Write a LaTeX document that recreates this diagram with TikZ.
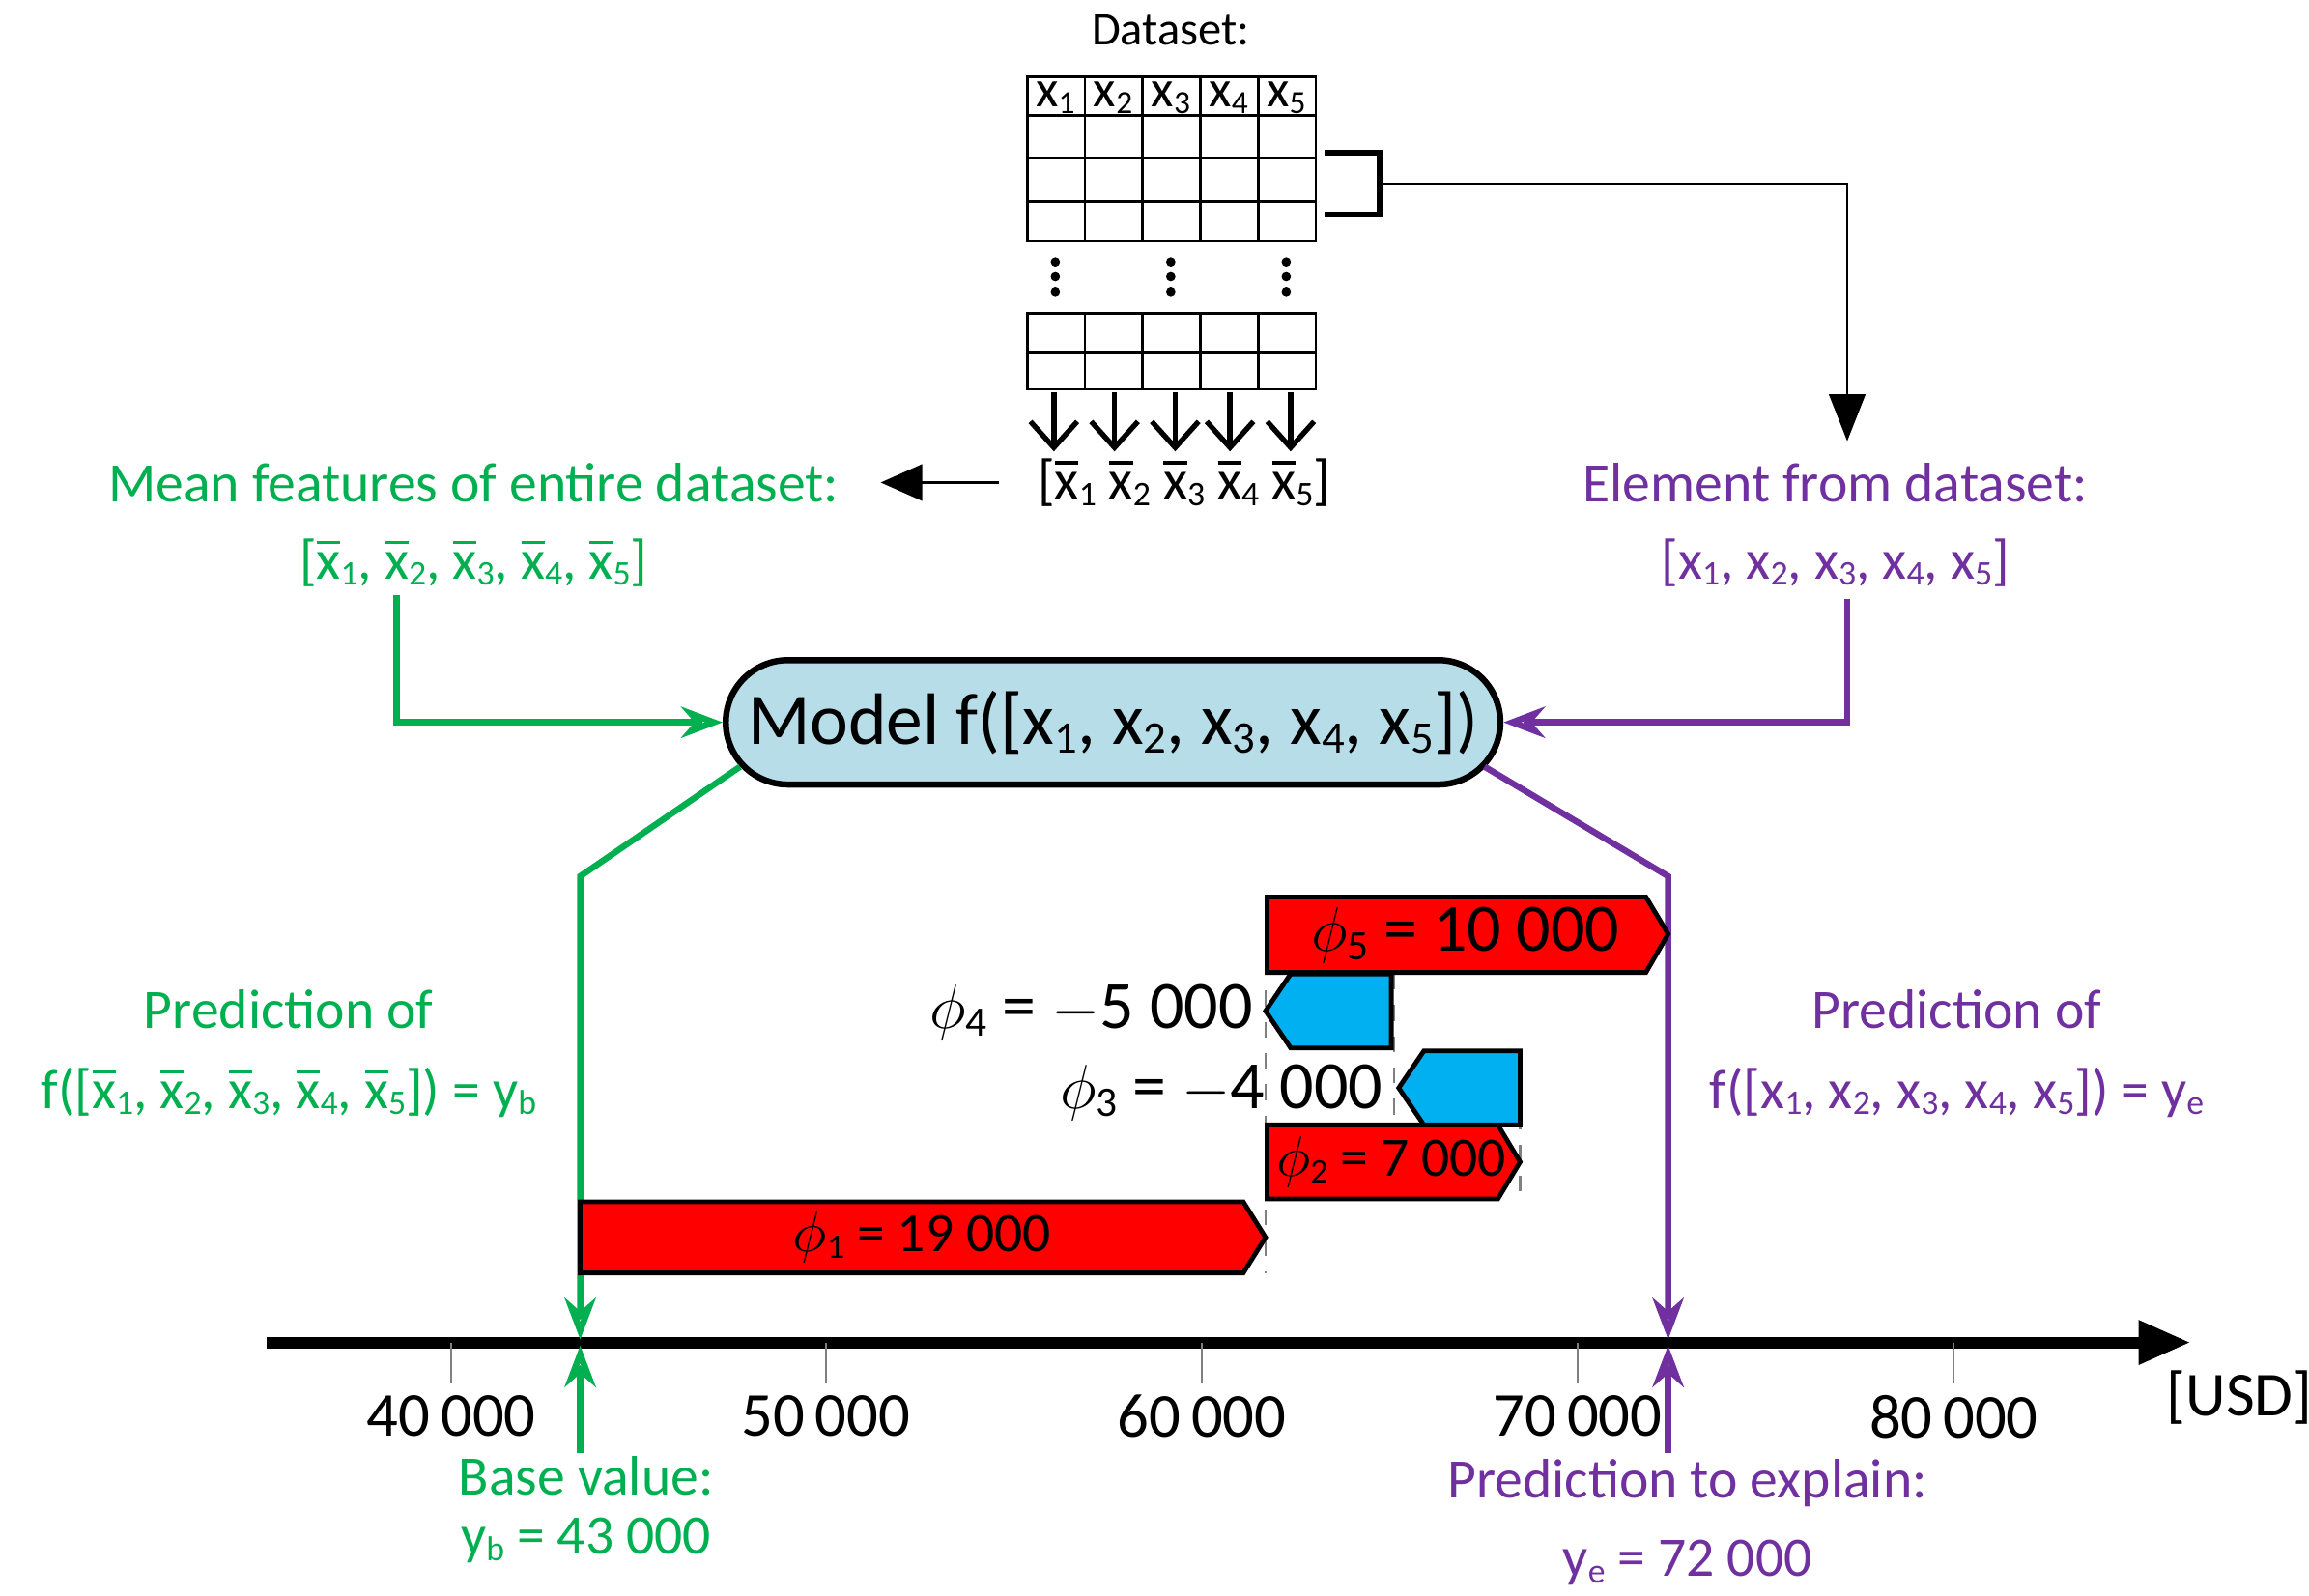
\documentclass[tikz,border=0pt]{standalone}
\usepackage{fontspec}
\setmainfont{Carlito}
\usetikzlibrary{arrows.meta}
\definecolor{gr}{RGB}{0,176,80}
\definecolor{pu}{RGB}{112,48,160}
\definecolor{lb}{RGB}{182,221,232}
\definecolor{bl}{RGB}{0,176,240}
\newcommand\sbs[1]{\raisebox{-0.25ex}{\scalebox{0.62}{#1}}}
\newcommand\xb[1]{\ooalign{x\cr\hidewidth\raisebox{0.62em}{\rule{0.42em}{0.06em}}\hidewidth\cr}\sbs{#1}}
\newcommand\xx[1]{x\sbs{#1}}
\begin{document}
\begin{tikzpicture}[x=0.01cm,y=-0.01cm,
 lab/.style={font=\fontsize{10.7}{13}\selectfont,inner sep=0},
 grid/.style={line width=0.5pt},
 arr/.style={-{Stealth[length=8pt,width=6pt,open]}},
 bar/.style={draw,line width=0.9pt}]
\useasboundingbox (0,0) rectangle (1560,1078);
% dataset
\node[lab,font=\fontsize{9}{11}\selectfont] (ds) at (791,20) {Dataset:};
\draw[grid] (694,52) rectangle (889,163);
\foreach \y in {78,107,136} \draw[grid] (694,\y)--(889,\y);
\foreach \x in {733,772,811,850} \draw[grid] (\x,52)--(\x,163);
\foreach \i/\x in {1/713,2/752,3/791,4/830,5/869} \node[lab,font=\fontsize{10}{12}\selectfont] (h\i) at (\x,66) {\xx{\i}};
\foreach \x in {713,791,869} \foreach \y in {177,187,197} \fill (\x,\y) circle (0.9pt);
\draw[grid] (694,212) rectangle (889,263);
\draw[grid] (694,238)--(889,238);
\foreach \x in {733,772,811,850} \draw[grid] (\x,212)--(\x,263);
\foreach \i/\x in {1/712,2/753,3/794,4/831,5/872}{
 \coordinate (t\i) at (\x,265); \coordinate (b\i) at (\x,305);
 \draw[-{Straight Barb[length=5pt,width=9pt]},line width=1pt] (t\i)--(b\i);}
\node[lab] (mean) at (800,326) {[\xb1 \xb2 \xb3 \xb4 \xb5]};
\node[lab,text=gr] (mf) at (320,326) {Mean features of entire dataset:};
\node[lab,text=gr] (mfv) at (320,380) {[\xb1, \xb2, \xb3, \xb4, \xb5]};
\coordinate (ma) at (675,326);
\draw[-{Triangle[length=8pt,width=7pt]}] (ma) -- (595,326);
% bracket
\draw[line width=1.2pt] (895,103)--(932,103)--(932,145)--(895,145);
\coordinate (br) at (932,124);
\coordinate (c1) at (1248,124);
\node[lab,text=pu] (el) at (1240,326) {Element from dataset:};
\node[lab,text=pu] (elv) at (1240,380) {[\xx1, \xx2, \xx3, \xx4, \xx5]};
\draw[-{Triangle[length=9pt,width=7pt]}] (br)--(c1)--(1248,298);
% model
\node[draw,line width=1.2pt,fill=lb,rounded corners=0.42cm,minimum width=5.23cm,minimum height=0.84cm,font=\fontsize{14}{16}\selectfont] (model) at (752,488) {Model f([\xx1, \xx2, \xx3, \xx4, \xx5])};
\draw[gr,line width=1.2pt,arr] (268,402)--(268,488)--(model.west);
\draw[pu,line width=1.2pt,arr] (1248,405)--(1248,488)--(model.east);
% axis
\draw[line width=2.2pt,-{Triangle[length=10pt,width=8pt]}] (180,907)--(1480,907);
\foreach \x/\t in {305/40,558/50,812/60,1066/70,1320/80}{
 \draw[gray] (\x,907)--(\x,935);
 \node[lab,font=\fontsize{12}{14}\selectfont] (tk\t) at (\x,957) {\t\,000};}
\node[lab,font=\fontsize{12}{14}\selectfont] (usd) at (1513,944) {[USD]};
% green/purple connectors
\draw[gr,line width=1.2pt,arr] (500,518)--(392,592)--(392,905);
\draw[pu,line width=1.2pt,arr] (1003,518)--(1127,592)--(1127,905);
\draw[gr,line width=1.2pt,arr] (392,982)--(392,909);
\draw[pu,line width=1.2pt,arr] (1127,982)--(1127,909);
\node[lab,text=gr] (pb) at (195,682) {Prediction of};
\node[lab,text=gr] (pbv) at (195,738) {f([\xb1, \xb2, \xb3, \xb4, \xb5]) = y\sbs{b}};
\node[lab,text=pu] (pe) at (1322,682) {Prediction of};
\node[lab,text=pu] (pev) at (1322,738) {f([\xx1, \xx2, \xx3, \xx4, \xx5]) = y\sbs{e}};
\node[lab,text=gr] (bv) at (396,997) {Base value:};
\node[lab,text=gr] (bvv) at (396,1041) {y\sbs{b} = 43 000};
\node[lab,text=pu] (pt) at (1140,1002) {Prediction to explain:};
\node[lab,text=pu] (ptv) at (1140,1056) {y\sbs{e} = 72 000};
% dashed guides
\draw[dashed,gray] (855,606)--(855,860);
\draw[dashed,gray] (942,658)--(942,760);
\draw[dashed,gray] (1027,710)--(1027,812);
% bars
\draw[bar,fill=red] (392,812)--(840,812)--(855,836)--(840,860)--(392,860)--cycle;
\node[lab] (p1) at (623,836) {$\phi$\sbs{1} = 19 000};
\draw[bar,fill=red] (856,760)--(1012,760)--(1027,785)--(1012,810)--(856,810)--cycle;
\node[lab] (p2) at (940,785) {$\phi$\sbs{2} = 7 000};
\draw[bar,fill=bl] (1027,710)--(962,710)--(945,735)--(962,760)--(1027,760)--cycle;
\node[lab,font=\fontsize{13}{15}\selectfont,anchor=east] (p3) at (935,738) {$\phi$\sbs{3} = $-$4 000};
\draw[bar,fill=bl] (940,658)--(872,658)--(855,683)--(872,708)--(940,708)--cycle;
\node[lab,font=\fontsize{13}{15}\selectfont,anchor=east] (p4) at (847,684) {$\phi$\sbs{4} = $-$5 000};
\draw[bar,fill=red] (856,606)--(1112,606)--(1127,631)--(1112,657)--(856,657)--cycle;
\node[lab,font=\fontsize{13}{15}\selectfont] (p5) at (990,632) {$\phi$\sbs{5} = 10 000};
\end{tikzpicture}
\end{document}
